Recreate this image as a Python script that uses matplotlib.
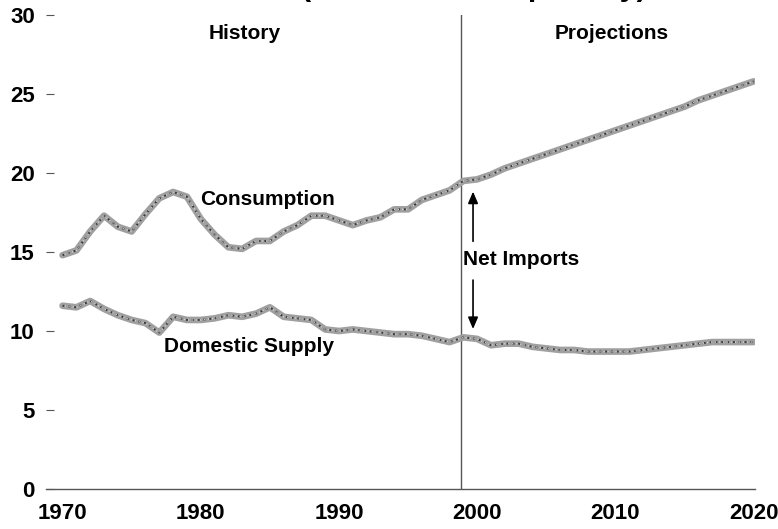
import matplotlib
matplotlib.use("Agg")
import matplotlib.pyplot as plt

# ── Data ──────────────────────────────────────────────────────────────────────
years = list(range(1970, 2021))

consumption = [14.8, 15.1, 16.3, 17.3, 16.6, 16.3, 17.4, 18.4, 18.8, 18.5,
               17.1, 16.1, 15.3, 15.2, 15.7, 15.7, 16.3, 16.7, 17.3, 17.3,
               17.0, 16.7, 17.0, 17.2, 17.7, 17.7, 18.3, 18.6, 18.9, 19.5,
               19.6, 19.9, 20.3, 20.6, 20.9, 21.2, 21.5, 21.8, 22.1, 22.4,
               22.7, 23.0, 23.3, 23.6, 23.9, 24.2, 24.6, 24.9, 25.2, 25.5,
               25.8]

domestic = [11.6, 11.5, 11.9, 11.4, 11.0, 10.7, 10.5, 9.9, 10.9, 10.7,
            10.7, 10.8, 11.0, 10.9, 11.1, 11.5, 10.9, 10.8, 10.7, 10.1,
            10.0, 10.1, 10.0, 9.9, 9.8, 9.8, 9.7, 9.5, 9.3, 9.6,
            9.5, 9.1, 9.2, 9.2, 9.0, 8.9, 8.8, 8.8, 8.7, 8.7,
            8.7, 8.7, 8.8, 8.9, 9.0, 9.1, 9.2, 9.3, 9.3, 9.3,
            9.3]

x_ticks = [1970, 1980, 1990, 2000, 2010, 2020]
y_ticks = [0, 5, 10, 15, 20, 25, 30]
split_year = 1998.8

FONT = "Liberation Sans"
plt.rcParams["font.family"] = [FONT, "DejaVu Sans"]

# ── Figure ────────────────────────────────────────────────────────────────────
fig = plt.figure(figsize=(7.78, 5.29), dpi=100)
ax = fig.add_axes([0.0591, 0.0756, 0.9113, 0.896])

# speckled grey band, like the scanned original
for ys in (consumption, domestic):
    ax.plot(years, ys, color="#a0a0a0", lw=4.8, solid_capstyle="round",
            solid_joinstyle="round", zorder=3)
    ax.plot(years, ys, color="#3a3a3a", lw=1.4, ls=(0, (1, 2.0)), zorder=4)
    ax.plot(years, ys, color="#dcdcdc", lw=0.9, ls=(1.5, (0.8, 2.4)), zorder=5)

ax.axvline(split_year, color="#555555", lw=1.0, zorder=2)

ax.set_xlim(1968.8, 2020.1)
ax.set_ylim(0, 30)
ax.set_xticks(x_ticks)
ax.set_yticks(y_ticks)
ax.tick_params(axis="x", length=0, pad=10, labelsize=16)
ax.tick_params(axis="y", direction="in", length=6, width=0.8, color="#555555",
               pad=8, labelsize=16)
for lab in ax.get_xticklabels() + ax.get_yticklabels():
    lab.set_fontweight("bold")

for side in ("left", "right", "top"):
    ax.spines[side].set_visible(False)
ax.spines["bottom"].set_color("#555555")
ax.spines["bottom"].set_linewidth(1.0)

# ── Annotations ───────────────────────────────────────────────────────────────
kw = dict(fontsize=15, fontweight="bold", ha="center", va="center")
ax.text(1983.2, 28.8, "History", **kw)
ax.text(2009.7, 28.8, "Projections", **kw)
ax.text(1984.8, 18.3, "Consumption", **kw)
ax.text(1983.5, 9.0, "Domestic Supply", **kw)
ax.text(2003.2, 14.5, "Net Imports", **kw)

arrow = dict(arrowstyle="-|>,head_length=0.7,head_width=0.3", color="black", lw=1.2)
ax.annotate("", xy=(1999.7, 19.0), xytext=(1999.7, 15.5), arrowprops=arrow)
ax.annotate("", xy=(1999.7, 9.95), xytext=(1999.7, 13.4), arrowprops=arrow)

# title: only the bottom of its second line shows in the reference
fig.text(0.6086, 1.010, "(million barrels per day)", fontsize=22,
         fontweight="bold", ha="center", va="baseline")

fig.savefig("out.png", dpi=100)
